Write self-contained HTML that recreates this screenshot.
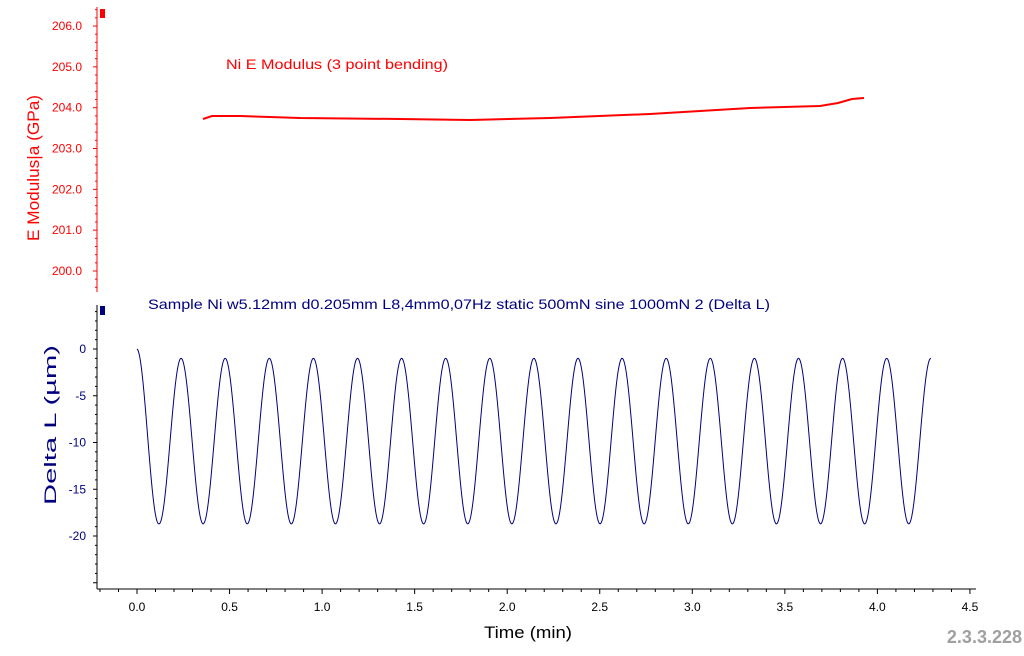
<!DOCTYPE html>
<html><head><meta charset="utf-8"><style>
html,body{margin:0;padding:0;background:#fff;}
svg{display:block;font-family:"Liberation Sans",sans-serif;}
</style></head><body>
<svg id="s" width="1024" height="656" viewBox="0 0 1024 656" xmlns="http://www.w3.org/2000/svg">
<rect width="1024" height="656" fill="#fff"/>
<g id="g"></g>
<rect x="100" y="9" width="5" height="9" fill="#f00"/>
<rect x="100" y="306" width="5" height="9" fill="#00007f"/>
<text x="226" y="69" font-size="14" fill="#f00" textLength="222" lengthAdjust="spacingAndGlyphs">Ni E Modulus (3 point bending)</text>
<text x="148" y="309" font-size="14" fill="#000080" textLength="622" lengthAdjust="spacingAndGlyphs">Sample Ni w5.12mm d0.205mm L8,4mm0,07Hz static 500mN sine 1000mN 2 (Delta L)</text>
<text transform="translate(39,168) rotate(-90)" text-anchor="middle" font-size="17" fill="#f00" textLength="146" lengthAdjust="spacingAndGlyphs">E Modulus|a (GPa)</text>
<text transform="translate(56,425) rotate(-90)" text-anchor="middle" font-size="17" fill="#000080" textLength="160" lengthAdjust="spacingAndGlyphs">Delta L (µm)</text>
<text x="528" y="638" text-anchor="middle" font-size="17" fill="#000" textLength="88" lengthAdjust="spacingAndGlyphs">Time (min)</text>
<text x="1022" y="643" text-anchor="end" font-size="18" font-weight="bold" fill="#a0a0a0">2.3.3.228</text>
<polyline fill="none" stroke="#f00" stroke-width="2" points="203,119 212,116 240,116 300,118 400,119 470,120 550,118 650,114 750,108 820,106 838,103 852,99 864,98"/>
</svg>
<script>
var g=document.getElementById('g'),NS='http://www.w3.org/2000/svg';
function el(t,a,txt){var e=document.createElementNS(NS,t);for(var k in a)e.setAttribute(k,a[k]);if(txt!=null)e.textContent=txt;g.appendChild(e);return e;}
el('line',{x1:97,y1:7,x2:97,y2:292,stroke:'#f00','stroke-width':1});
for(var i=-2;i<=32;i++){var v=200+i*0.2,y=271-(v-200)*40.83;if(y<8||y>292)continue;var maj=i%5==0;
el('line',{x1:maj?93:95,y1:y,x2:97,y2:y,stroke:'#f00'});
if(maj)el('text',{x:82,y:y+4,'text-anchor':'end','font-size':12,fill:'#f00'},v.toFixed(1));}
el('line',{x1:97,y1:305,x2:97,y2:589,stroke:'#000'});
for(var v=-25;v<=4;v++){var y=349-v*9.35;if(y<306||y>589)continue;var maj=v%5==0;
el('line',{x1:maj?93:95,y1:y,x2:97,y2:y,stroke:'#000'});
if(maj&&v>-25)el('text',{x:86,y:y+4,'text-anchor':'end','font-size':12,fill:'#000080'},String(v));}
el('line',{x1:97,y1:589,x2:976,y2:589,stroke:'#000'});
for(var i=-2;i<=45;i++){var x=137+i*0.1*185.1;var maj=i%5==0;
el('line',{x1:x,y1:589,x2:x,y2:maj?594:592,stroke:'#000'});
if(maj&&i>=0)el('text',{x:x,y:611,'text-anchor':'middle','font-size':12,fill:'#000'},(i/10).toFixed(1));}
var pts=[];
for(var x=137;x<=931;x+=0.5){var A=Math.max(8.85,9.85-(x-137)/22);var v=-9.85+A*Math.cos(2*Math.PI*(x-137)/44.1);pts.push(x+','+(349-v*9.35).toFixed(2));}
el('polyline',{points:pts.join(' '),fill:'none',stroke:'#000080','stroke-width':1});
</script>
</body></html>
